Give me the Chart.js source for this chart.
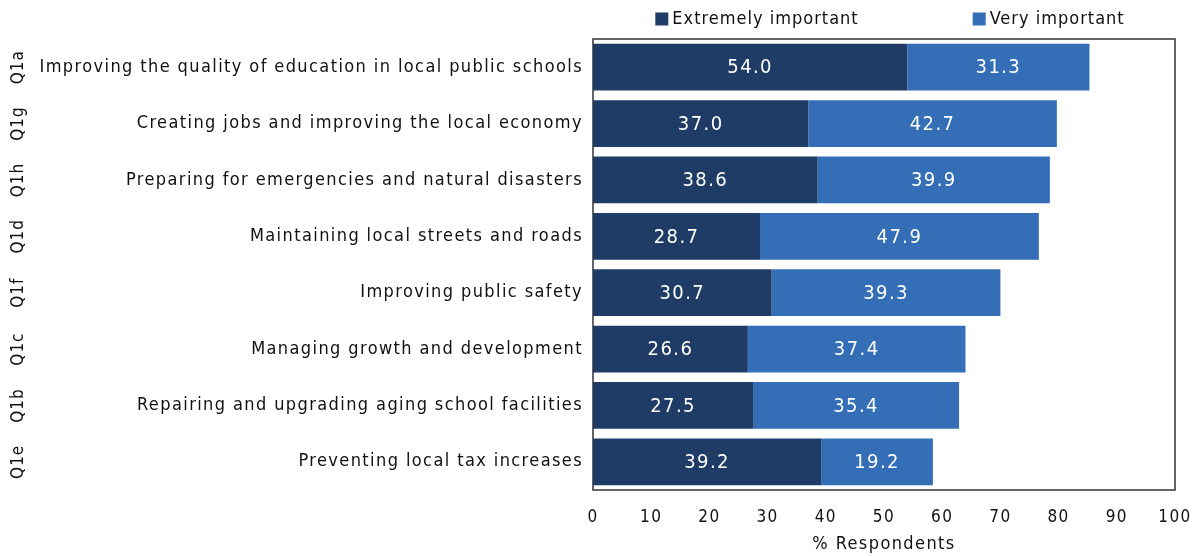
<!DOCTYPE html>
<html>
<head>
<meta charset="utf-8">
<script src="https://cdn.jsdelivr.net/npm/chart.js@4.4.1/dist/chart.umd.min.js"></script>
<style>
  html, body { margin: 0; padding: 0; background: #fff; }
  #wrap { width: 1199px; height: 556px; }
</style>
</head>
<body>
<div id="wrap"><canvas id="importance"></canvas></div>
<script>
const codes = ['Q1a', 'Q1g', 'Q1h', 'Q1d', 'Q1f', 'Q1c', 'Q1b', 'Q1e'];
const issues = [
    'Improving the quality of education in local public schools',
    'Creating jobs and improving the local economy',
    'Preparing for emergencies and natural disasters',
    'Maintaining local streets and roads',
    'Improving public safety',
    'Managing growth and development',
    'Repairing and upgrading aging school facilities',
    'Preventing local tax increases'
];
const extremely = [54.0, 37.0, 38.6, 28.7, 30.7, 26.6, 27.5, 39.2];
const very = [31.3, 42.7, 39.9, 47.9, 39.3, 37.4, 35.4, 19.2];
const xTicks = [0, 10, 20, 30, 40, 50, 60, 70, 80, 90, 100];

const FONT = '"DejaVu Sans Condensed", "DejaVu Sans", sans-serif';
const SPACING = '1.4px';
const darkBlue = '#1f3c66';
const midBlue = '#336eb6';

// slightly tracked text for every label the chart draws
const tracking = {
    id: 'tracking',
    beforeUpdate(chart) { chart.ctx.letterSpacing = SPACING; },
    beforeDraw(chart) { chart.ctx.letterSpacing = SPACING; }
};

// box around the plot area
const frame = {
    id: 'frame',
    beforeDatasetsDraw(chart) {
        const { ctx, chartArea: a } = chart;
        ctx.save();
        ctx.strokeStyle = '#333';
        ctx.lineWidth = 1.5;
        ctx.strokeRect(a.left, a.top, a.right - a.left, a.bottom - a.top);
        ctx.restore();
    }
};

// white numbers in the middle of each segment
const segmentValues = {
    id: 'segmentValues',
    afterDatasetsDraw(chart) {
        const ctx = chart.ctx;
        ctx.save();
        ctx.fillStyle = '#fff';
        ctx.font = '20px ' + FONT;
        ctx.textAlign = 'center';
        ctx.textBaseline = 'middle';
        chart.data.datasets.forEach((ds, i) => {
            chart.getDatasetMeta(i).data.forEach((bar, j) => {
                const p = bar.getCenterPoint();
                ctx.fillText(ds.data[j].toFixed(1), p.x, p.y + 1);
            });
        });
        ctx.restore();
    }
};

// question codes, rotated, left of the category labels
const questionCodes = {
    id: 'questionCodes',
    afterDraw(chart) {
        const ctx = chart.ctx;
        const y = chart.scales.y;
        ctx.save();
        ctx.fillStyle = '#111';
        ctx.font = '17px ' + FONT;
        ctx.letterSpacing = '1px';
        ctx.textAlign = 'center';
        ctx.textBaseline = 'middle';
        codes.forEach((c, i) => {
            ctx.save();
            ctx.translate(19, y.getPixelForValue(i));
            ctx.rotate(-Math.PI / 2);
            ctx.fillText(c, 0, 0);
            ctx.restore();
        });
        ctx.restore();
    }
};

// legend above the plot area
const topLegend = {
    id: 'topLegend',
    afterDraw(chart) {
        const { ctx, chartArea: a } = chart;
        ctx.save();
        ctx.font = '18px ' + FONT;
        ctx.letterSpacing = '1px';
        ctx.textBaseline = 'middle';
        const box = 13, gap = 4, between = 114;
        const items = chart.data.datasets.map(ds => ({
            label: ds.label, color: ds.backgroundColor,
            w: box + gap + ctx.measureText(ds.label).width
        }));
        const total = items.reduce((s, it) => s + it.w, 0) + between * (items.length - 1);
        let x = (a.left + a.right) / 2 + 6 - total / 2;
        const yc = 19;
        items.forEach(it => {
            ctx.fillStyle = it.color;
            ctx.fillRect(x, yc - box / 2, box, box);
            ctx.fillStyle = '#111';
            ctx.fillText(it.label, x + box + gap, yc);
            x += it.w + between;
        });
        ctx.restore();
    }
};

new Chart(document.getElementById('importance'), {
    type: 'bar',
    data: {
        labels: issues,
        datasets: [{
            label: 'Extremely important',
            data: extremely,
            backgroundColor: darkBlue,
            barPercentage: 0.83,
            categoryPercentage: 1
        }, {
            label: 'Very important',
            data: very,
            backgroundColor: midBlue,
            barPercentage: 0.83,
            categoryPercentage: 1
        }]
    },
    options: {
        indexAxis: 'y',
        responsive: true,
        maintainAspectRatio: false,
        animation: false,
        layout: { padding: { top: 39, right: 24, left: 0, bottom: 0 } },
        scales: {
            x: {
                stacked: true,
                min: 0,
                max: 100,
                afterBuildTicks: s => { s.ticks = xTicks.map(v => ({ value: v })); },
                afterFit: s => { s.height = 66; s.paddingLeft = 0; s.paddingRight = 0; },
                grid: { display: false, drawTicks: false },
                border: { display: false },
                ticks: { color: '#111', padding: 17, font: { family: FONT, size: 17 } },
                title: {
                    display: true, text: '% Respondents', color: '#111',
                    padding: { top: 4, bottom: 1 },
                    font: { family: FONT, size: 18 }
                }
            },
            y: {
                stacked: true,
                afterFit: s => { s.width = 593; },
                grid: { display: false, drawTicks: false },
                border: { display: false },
                ticks: { color: '#111', padding: 10, font: { family: FONT, size: 18 } }
            }
        },
        plugins: {
            legend: { display: false },
            tooltip: { enabled: false }
        }
    },
    plugins: [tracking, frame, segmentValues, questionCodes, topLegend]
});
</script>
</body>
</html>
